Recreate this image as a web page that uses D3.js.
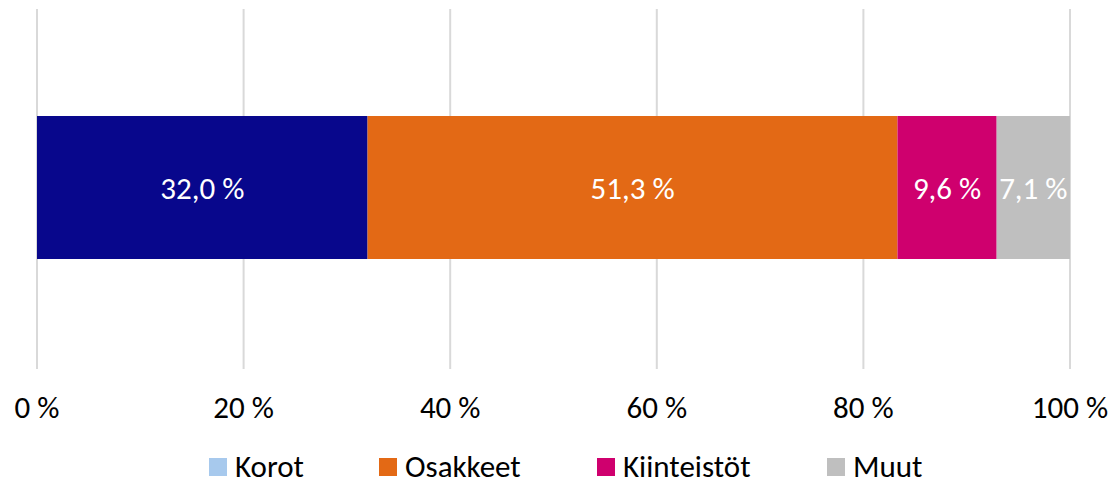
<!DOCTYPE html>
<html>
<head>
<meta charset="utf-8">
<script src="https://cdn.jsdelivr.net/npm/d3@7"></script>
<style>
  html, body { margin: 0; padding: 0; background: #fff; }
  svg text { font-family: Calibri, Carlito, "Open Sans", sans-serif; }
</style>
</head>
<body>
<div id="chart"></div>
<script>
// data
const categories = ["Korot", "Osakkeet", "Kiinteistöt", "Muut"];
const values = [32.0, 51.3, 9.6, 7.1];
const barColors = ["#08078C", "#E36915", "#CF006E", "#BFBFBF"];
const legendColors = ["#A7C9ED", "#E36915", "#CF006E", "#BFBFBF"];
const ticks = [0, 20, 40, 60, 80, 100];

const width = 1114, height = 481;
const svg = d3.select("#chart").append("svg")
    .attr("width", width).attr("height", height);

const x = d3.scaleLinear().domain([0, 100]).range([37, 1070]);
const gridTop = 9, gridBottom = 369;
const barY = 116, barH = 143;
const fs = "31px";

// grid lines
svg.append("g").selectAll("line").data(ticks).enter().append("line")
    .attr("x1", d => x(d)).attr("x2", d => x(d))
    .attr("y1", gridTop).attr("y2", gridBottom)
    .attr("stroke", "#d9d9d9").attr("stroke-width", 2);

// stacked segments
let acc = 0;
const segs = values.map((v, i) => {
    const s = { name: categories[i], v: v, x0: acc, x1: acc + v, color: barColors[i] };
    acc += v;
    return s;
});

svg.append("g").selectAll("rect").data(segs).enter().append("rect")
    .attr("x", d => x(d.x0)).attr("width", d => x(d.x1) - x(d.x0))
    .attr("y", barY).attr("height", barH)
    .attr("fill", d => d.color);

svg.append("g").selectAll("text").data(segs).enter().append("text")
    .attr("x", d => (x(d.x0) + x(d.x1)) / 2)
    .attr("y", barY + barH / 2 + 11)
    .attr("text-anchor", "middle")
    .attr("fill", "#fff").style("font-size", fs)
    .text(d => d3.format(".1f")(d.v).replace(".", ",") + " %");

// axis labels
svg.append("g").selectAll("text").data(ticks).enter().append("text")
    .attr("x", d => x(d)).attr("y", 418)
    .attr("text-anchor", "middle")
    .attr("fill", "#000").style("font-size", fs)
    .text(d => d + " %");

// legend
const legendX = [209, 379, 597, 827];
const lg = svg.append("g").selectAll("g").data(categories).enter().append("g")
    .attr("transform", (d, i) => `translate(${legendX[i]},0)`);
lg.append("rect").attr("x", 0).attr("y", 458).attr("width", 18).attr("height", 18)
    .attr("fill", (d, i) => legendColors[i]);
lg.append("text").attr("x", 26).attr("y", 477)
    .attr("fill", "#000").style("font-size", fs)
    .text(d => d);
</script>
</body>
</html>
